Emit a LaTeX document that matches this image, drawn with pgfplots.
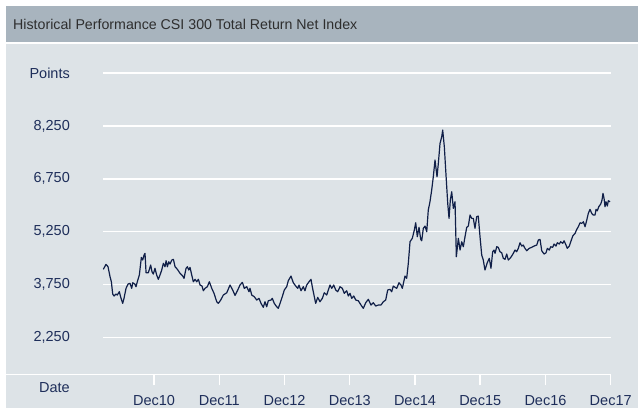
\documentclass[border=0pt]{standalone}
\usepackage{fontspec}
\setmainfont{Liberation Sans}
\usepackage{pgfplots}
\pgfplotsset{compat=1.18}
\definecolor{titlebar}{HTML}{A8B4BE}
\definecolor{panel}{HTML}{DDE3E7}
\definecolor{lab}{HTML}{1E2E5A}
\definecolor{linec}{HTML}{101F48}
\definecolor{titletext}{HTML}{2E2E2E}
\begin{document}
\begin{tikzpicture}
\useasboundingbox (0pt,0pt) rectangle (638pt,408pt);
\fill[white] (0pt,0pt) rectangle (638pt,408pt);
\fill[titlebar] (6pt,366pt) rectangle (638pt,402pt);
\fill[panel] (6pt,0pt) rectangle (638pt,364pt);
\node[anchor=base west, inner sep=0pt, font=\fontsize{14.2}{16}\selectfont, text=titletext] at (13pt,378pt) {Historical Performance CSI 300 Total Return Net Index};
\draw[white, line width=1.5pt] (6pt,33.7pt) -- (610.7pt,33.7pt);
\begin{axis}[at={(103pt,33.7pt)}, anchor=south west, scale only axis,
  width=507.7pt, height=301.1pt,
  xmin=2010.218, xmax=2018, ymin=1200, ymax=9750,
  axis line style={draw=none},
  xtick={2011,2012,2013,2014,2015,2016,2017,2018},
  xticklabels={Dec10,Dec11,Dec12,Dec13,Dec14,Dec15,Dec16,Dec17},
  xtick pos=bottom, ytick pos=left,
  tick align=outside, major tick length=11pt,
  x tick style={white, line width=1.5pt},
  y tick style={draw=none},
  ymajorgrids, major grid style={white, line width=1.5pt},
  ytick={2250,3750,5250,6750,8250,9750},
  yticklabels={{2,250},{3,750},{5,250},{6,750},{8,250},Points},
  tick label style={font=\fontsize{14.5}{16}\selectfont, text=lab},
  yticklabel style={anchor=east, inner sep=0pt, xshift=-22pt},
  xticklabel style={anchor=base, inner sep=0pt, yshift=-20pt},
  xlabel=Date,
  xlabel style={at={(axis description cs:0,0)}, anchor=base east, inner sep=0pt,
    xshift=-33pt, yshift=-17.7pt, font=\fontsize{14.5}{16}\selectfont, text=lab},
]
\addplot[linec, line width=1.2pt, line join=round, no marks] coordinates {
(2010.223,4181)(2010.264,4322)(2010.295,4254)(2010.326,3970)(2010.346,3828)
(2010.367,3479)(2010.387,3423)(2010.418,3479)(2010.437,3451)(2010.468,3545)
(2010.490,3386)(2010.520,3215)(2010.540,3357)(2010.571,3641)(2010.602,3763)
(2010.632,3783)(2010.658,3641)(2010.674,3800)(2010.705,3763)(2010.724,3687)
(2010.744,3828)(2010.775,4019)(2010.806,4521)(2010.827,4445)(2010.847,4587)
(2010.862,4635)(2010.878,4084)(2010.913,4084)(2010.949,4303)(2010.969,4112)
(2010.989,4047)(2011.015,4209)(2011.041,4019)(2011.066,3897)(2011.092,4019)
(2011.118,4161)(2011.143,4351)(2011.169,4254)(2011.185,4425)(2011.205,4254)
(2011.226,4396)(2011.246,4331)(2011.272,4445)(2011.297,4464)(2011.323,4254)
(2011.358,4181)(2011.399,4067)(2011.440,3990)(2011.460,3925)(2011.491,4209)
(2011.511,4254)(2011.533,4161)(2011.552,4237)(2011.578,4019)(2011.603,3828)
(2011.629,3897)(2011.655,3828)(2011.680,3897)(2011.706,3735)(2011.736,3706)
(2011.756,3573)(2011.782,3641)(2011.817,3687)(2011.848,3828)(2011.885,3641)
(2011.920,3499)(2011.961,3261)(2011.986,3215)(2012.023,3309)(2012.062,3451)
(2012.115,3516)(2012.165,3735)(2012.206,3593)(2012.242,3440)(2012.283,3593)
(2012.318,3735)(2012.354,3811)(2012.384,3641)(2012.421,3687)(2012.456,3545)
(2012.471,3641)(2012.498,3451)(2012.537,3403)(2012.574,3309)(2012.609,3357)
(2012.640,3215)(2012.675,3102)(2012.701,3261)(2012.727,3119)(2012.752,3289)
(2012.793,3309)(2012.813,3357)(2012.843,3215)(2012.880,3119)(2012.905,3073)
(2012.935,3232)(2012.966,3403)(2012.997,3593)(2013.034,3687)(2013.058,3857)
(2013.100,3990)(2013.135,3800)(2013.172,3706)(2013.203,3641)(2013.222,3735)
(2013.253,3573)(2013.288,3687)(2013.314,3573)(2013.340,3735)(2013.376,3828)
(2013.406,3897)(2013.426,3687)(2013.457,3403)(2013.478,3215)(2013.509,3386)
(2013.544,3261)(2013.580,3357)(2013.610,3516)(2013.647,3451)(2013.672,3593)
(2013.698,3735)(2013.724,3641)(2013.755,3735)(2013.785,3593)(2013.816,3545)
(2013.851,3687)(2013.886,3641)(2013.917,3499)(2013.954,3573)(2013.978,3423)
(2014.004,3499)(2014.030,3357)(2014.061,3423)(2014.092,3309)(2014.131,3289)
(2014.173,3167)(2014.208,3073)(2014.245,3232)(2014.285,3329)(2014.326,3167)
(2014.361,3232)(2014.398,3139)(2014.438,3167)(2014.479,3167)(2014.515,3261)
(2014.551,3309)(2014.582,3593)(2014.617,3613)(2014.643,3545)(2014.668,3706)
(2014.695,3670)(2014.720,3641)(2014.755,3800)(2014.786,3735)(2014.806,3641)
(2014.847,3990)(2014.873,3925)(2014.898,4351)(2014.924,4964)(2014.959,5061)
(2014.990,5296)(2015.011,5503)(2015.036,5106)(2015.062,5373)(2015.088,5032)
(2015.103,4992)(2015.128,5345)(2015.154,5410)(2015.180,5248)(2015.204,5864)
(2015.230,6100)(2015.256,6432)(2015.281,6809)(2015.307,7284)(2015.338,6809)
(2015.358,7190)(2015.384,7758)(2015.410,7945)(2015.425,8135)(2015.450,7661)
(2015.471,7000)(2015.502,6054)(2015.522,5628)(2015.542,6148)(2015.563,6384)
(2015.588,5912)(2015.614,6100)(2015.634,4538)(2015.665,5061)(2015.691,4728)
(2015.717,4964)(2015.741,4822)(2015.767,5106)(2015.793,5373)(2015.818,5410)
(2015.844,5722)(2015.870,5628)(2015.894,5628)(2015.920,5345)(2015.946,5674)
(2015.970,5694)(2015.997,5106)(2016.023,4587)(2016.047,4445)(2016.073,4161)
(2016.108,4368)(2016.139,4493)(2016.165,4209)(2016.191,4680)(2016.211,4728)
(2016.227,4635)(2016.253,4822)(2016.277,4805)(2016.303,4680)(2016.329,4652)
(2016.354,4493)(2016.380,4464)(2016.406,4615)(2016.430,4445)(2016.457,4493)
(2016.483,4558)(2016.507,4635)(2016.533,4728)(2016.559,4680)(2016.584,4777)
(2016.610,4936)(2016.636,4842)(2016.660,4870)(2016.686,4777)(2016.713,4709)
(2016.752,4777)(2016.789,4805)(2016.825,4842)(2016.866,4870)(2016.891,5012)
(2016.917,5032)(2016.943,4709)(2016.978,4615)(2017.009,4652)(2017.029,4777)
(2017.060,4728)(2017.080,4822)(2017.111,4805)(2017.131,4899)(2017.162,4842)
(2017.182,4936)(2017.212,4899)(2017.234,4964)(2017.265,4919)(2017.285,4992)
(2017.315,4870)(2017.335,4777)(2017.366,4842)(2017.388,4964)(2017.418,5126)
(2017.454,5203)(2017.480,5316)(2017.504,5390)(2017.530,5503)(2017.556,5486)
(2017.581,5532)(2017.607,5390)(2017.633,5580)(2017.657,5770)(2017.683,5884)
(2017.709,5770)(2017.734,5722)(2017.760,5722)(2017.775,5884)(2017.795,5844)
(2017.817,5958)(2017.847,6034)(2017.867,6148)(2017.882,6338)(2017.898,6196)
(2017.913,5958)(2017.928,6100)(2017.948,5978)(2017.964,6128)(2017.990,6100)
};
\end{axis}
\end{tikzpicture}
\end{document}
